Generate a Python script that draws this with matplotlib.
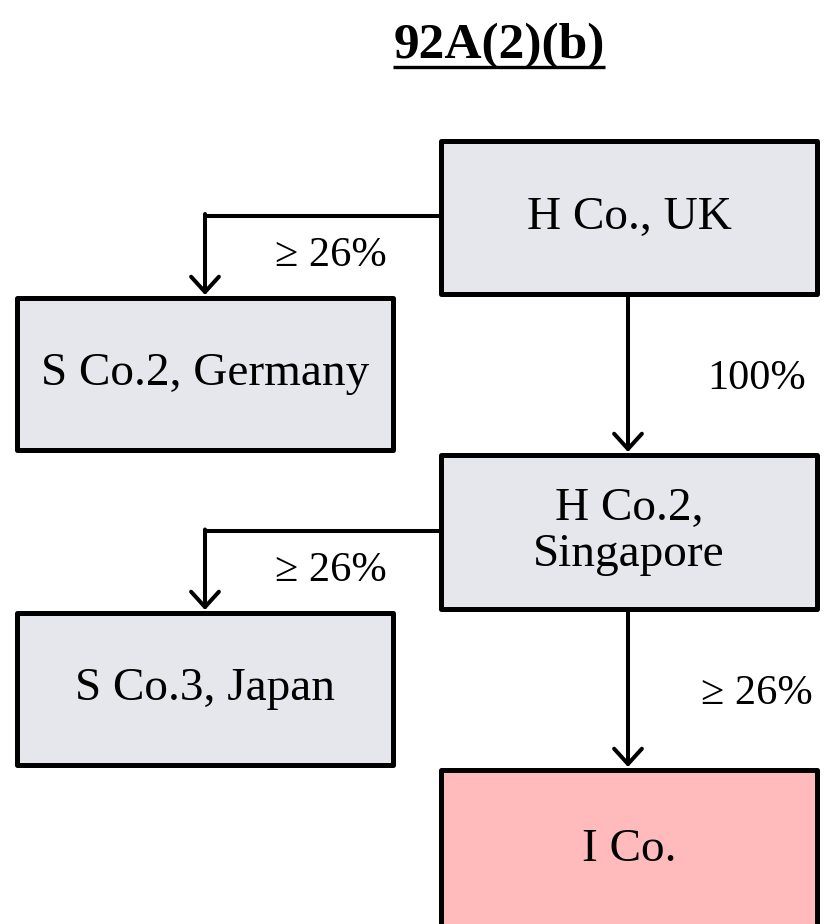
import matplotlib
matplotlib.use("Agg")
import matplotlib.pyplot as plt
from matplotlib.patches import Rectangle

# entities and ownership links
title = "92A(2)(b)"
names = ["H Co., UK", "S Co.2, Germany", "H Co.2,\nSingapore", "S Co.3, Japan", "I Co."]
fills = ["#E6E7EC", "#E6E7EC", "#E6E7EC", "#E6E7EC", "#FFBBBB"]
links = [(0, 1, "\u2265 26%"), (0, 2, "100%"), (2, 3, "\u2265 26%"), (2, 4, "\u2265 26%")]

# layout in pixel space (x0, y0, x1, y1), y grows downward
boxes = [(441, 141, 817, 294), (17, 298, 393, 450), (441, 455, 817, 609),
         (17, 613, 393, 765), (441, 770, 817, 940)]

plt.rcParams["font.family"] = ["Liberation Serif", "DejaVu Serif"]

fig = plt.figure(figsize=(8.3, 9.24), dpi=100)
ax = fig.add_axes([0, 0, 1, 1])
ax.set_xlim(0, 830)
ax.set_ylim(924, 0)
ax.axis("off")

lw = 3.6
for (x0, y0, x1, y1), name, fc in zip(boxes, names, fills):
    ax.add_patch(Rectangle((x0, y0), x1 - x0, y1 - y0, facecolor=fc,
                           edgecolor="black", linewidth=lw, joinstyle="round", zorder=2))
    cy = (y0 + y1) / 2
    if y1 > 924:
        cy = 850
    ax.text((x0 + x1) / 2, cy, name, ha="center", va="center", fontsize=34,
            linespacing=1.1, zorder=3)

arrow = dict(arrowstyle="->,head_length=0.55,head_width=0.5", color="black",
             lw=2.9, shrinkA=0, shrinkB=0, mutation_scale=20)
for src, dst, label in links:
    sx0, sy0, sx1, sy1 = boxes[src]
    dx0, dy0, dx1, dy1 = boxes[dst]
    if dx0 < sx0:
        # elbow link from left side of parent down into child
        my = (sy0 + sy1) / 2 - 2 if src == 0 else (sy0 + sy1) / 2 - 1
        tx = 205
        ax.plot([sx0, tx - 1], [my, my], color="black", lw=2.9, solid_capstyle="butt", zorder=1)
        ax.annotate("", xy=(tx, dy0 - 3), xytext=(tx, my - 1.5), arrowprops=arrow, zorder=1)
        ax.text(331, my + 40, label, ha="center", va="center", fontsize=30.5)
    else:
        cx = 628
        ax.annotate("", xy=(cx, dy0 - 3), xytext=(cx, sy1), arrowprops=arrow, zorder=1)
        ax.text(757, (sy1 + dy0) / 2 + 4, label, ha="center", va="center", fontsize=30.5)

t = ax.text(499, 58, title, ha="center", va="baseline", fontsize=37, fontweight="bold")
fig.canvas.draw()
bb = t.get_window_extent()
inv = ax.transData.inverted()
(lx, _), (rx, _) = inv.transform([(bb.x0, 0), (bb.x1, 0)])
ax.plot([lx, rx], [67, 67], color="black", lw=2.4, solid_capstyle="butt")

fig.savefig("out.png", dpi=100)
